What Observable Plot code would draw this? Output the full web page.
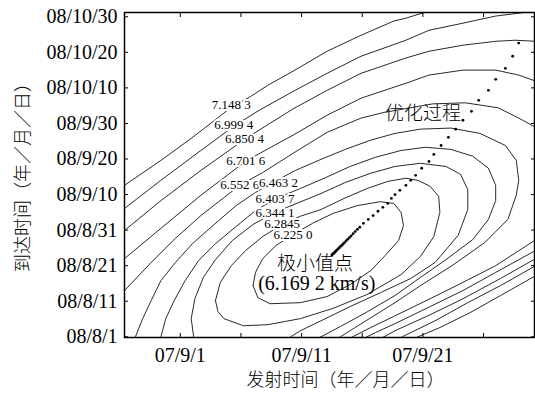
<!DOCTYPE html>
<html><head><meta charset="utf-8">
<script src="https://cdn.jsdelivr.net/npm/d3@7"></script>
<script src="https://cdn.jsdelivr.net/npm/@observablehq/plot@0.6"></script>
<style>body{margin:0;background:#fff}</style>
</head><body><div id="chart"></div>
<script>
// x: launch day of Sep 2007 (1 = 07/9/1); y: arrival day after 2008-08-01 (0 = 08/8/1)
const xTickValues = [1, 6, 11, 16, 21, 26];
const xLabelValues = [1, 11, 21];
const xTickLabels = ["07/9/1", "07/9/11", "07/9/21"];
const yTickValues = [0, 10, 20, 30, 40, 50, 60, 70, 80, 90];
const yTickLabels = ["08/8/1","08/8/11","08/8/21","08/8/31","08/9/10","08/9/20","08/9/30","08/10/10","08/10/20","08/10/30"];

// contour level labels (km/s) and their positions
const levelLabels = ["7.148 3","6.999 4","6.850 4","6.701 6","6.552 6","6.463 2","6.403 7","6.344 1","6.2845","6.225 0"];
const labelX = [5.2, 5.4, 6.3, 6.4, 5.9, 9.1, 8.8, 8.8, 9.4, 10.3];
const labelY = [65.1, 59.7, 55.6, 49.6, 42.7, 43.4, 38.9, 35.0, 31.9, 28.8];

// contour lines: [launch day, arrival day]
const c7148_up = [[-4.1,41.5],[-3.6,42.6],[-0.6,49.6],[1.9,55.8],[5.2,64.5],[6.8,67.6],[8.2,70.7],[10.3,74.7],[13.1,80.3],[15.9,84.8],[18.6,88.8],[19.6,89.6],[21.2,91.3],[22.4,92.7]];
const c7148_low = [[31.1,18.6],[30.3,17.2],[27.4,11.6],[24.9,6.8],[22.4,2.6],[20.6,0],[20.0,-1.1]];
const c6999_up = [[-4.1,35.0],[-3.6,36.1],[-0.6,44.0],[2.7,52.4],[5.4,59.2],[7.5,63.7],[10.3,69.0],[13.1,74.1],[15.9,78.9],[19.6,83.4],[21.5,86.2],[24.3,88.2],[27.0,90.2],[30.3,91.6],[31.1,92.2]];
const c6999_low = [[31.1,21.4],[30.3,20.0],[27.4,14.4],[24.7,9.6],[22.0,4.5],[19.3,0],[18.7,-1.1]];
const c6850_up = [[-4.1,28.5],[-3.6,29.9],[-0.6,38.3],[2.7,46.8],[6.3,55.5],[8.0,59.2],[10.3,64.1],[13.1,69.3],[15.9,74.1],[19.6,78.4],[21.5,80.3],[24.3,82.0],[27.0,83.1],[28.6,83.4],[30.3,83.1],[31.1,82.8]];
const c6850_low = [[31.1,23.4],[30.3,22.0],[27.4,16.4],[24.3,10.7],[21.6,6.2],[18.7,1.7],[17.8,0],[17.1,-1.1]];
const c6701_up = [[-4.1,20.9],[-3.6,22.0],[-0.6,30.5],[2.7,39.8],[6.4,49.4],[8.3,53.0],[10.3,56.7],[13.1,62.3],[15.9,67.1],[19.6,71.3],[21.5,73.6],[24.3,75.0],[27.0,75.0],[28.9,73.6],[30.3,71.9],[31.1,70.7]];
const c6701_low = [[31.1,25.7],[30.3,24.3],[27.0,18.1],[24.3,13.0],[21.6,8.5],[18.7,3.7],[17.1,1.2],[16.4,0],[15.7,-1.1]];
const c6553_up = [[-4.1,11.2],[-3.6,13.0],[-1.4,20.9],[0.6,27.7],[2.7,34.1],[5.9,42.6],[7.8,46.2],[10.3,51.6],[13.1,57.5],[15.9,61.5],[17.8,63.1],[21.8,65.5],[24.5,65.8],[27.2,64.4],[28.9,61.5],[30.3,58.9],[31.1,57.5]];
const c6553_low = [[31.1,28.7],[30.3,27.3],[27.0,20.0],[24.3,15.3],[21.6,10.7],[18.7,5.9],[16.7,2.6],[15.2,0],[14.6,-1.1]];
const c6463 = [[-2.8,-1.6],[-2.7,0],[-2.1,5.1],[-1.4,10.2],[-0.6,15.8],[0.6,20.9],[2.0,26.2],[3.7,31.3],[5.6,36.9],[7.2,40.6],[8.8,43.7],[10.5,46.8],[12.6,49.9],[14.6,52.7],[16.7,55.3],[18.7,57.2],[20.8,58.4],[23.3,58.7],[25.7,57.2],[27.8,53.8],[28.7,49.6],[28.9,44.0],[28.7,39.8],[28.0,33.0],[26.1,26.5],[23.4,20.0],[20.8,14.4],[18.7,9.6],[16.3,4.5],[14.2,0],[13.6,-1.1]];
const c6404 = [[-0.8,-1.6],[-0.6,0],[-0.2,5.1],[0.5,10.2],[1.4,15.8],[2.5,21.4],[3.9,26.2],[5.6,31.0],[7.2,35.5],[8.9,38.9],[10.9,41.7],[13.0,44.8],[15.0,47.9],[17.1,50.5],[19.2,52.4],[21.2,53.3],[23.3,52.7],[25.1,50.8],[26.4,47.4],[27.0,42.6],[27.0,38.3],[26.4,33.0],[25.1,27.3],[22.9,21.7],[20.8,16.7],[18.7,11.6],[16.3,6.8],[14.2,2.9],[12.6,0],[12.0,-1.1]];
const c6344 = [[2.2,-1.6],[2.1,0],[1.9,5.1],[2.2,10.7],[2.9,16.7],[3.9,21.7],[5.3,27.1],[7.0,31.6],[8.8,35.0],[10.8,37.8],[12.6,40.3],[14.6,43.4],[16.7,46.0],[18.7,47.9],[20.8,48.8],[22.9,47.9],[24.1,45.7],[24.7,41.4],[24.7,35.8],[23.9,28.5],[22.0,20.9],[20.0,16.4],[17.5,12.4],[15.0,8.5],[12.6,4.5],[10.9,1.7],[10.1,0],[9.7,-1.1]];
const c6285 = [[3.9,10.2],[4.1,7.1],[4.6,5.1],[6.2,3.1],[8.2,3.4],[10.9,5.1],[13.6,8.0],[16.4,11.9],[19.2,17.5],[20.8,22.6],[21.9,28.2],[22.4,35.0],[22.3,39.5],[21.6,42.3],[20.6,44.0],[19.6,44.6],[18.1,43.7],[16.4,41.7],[14.5,38.9],[12.6,35.8],[10.9,33.9],[9.4,31.6],[7.8,28.2],[6.4,24.3],[5.2,20.0],[4.3,15.3],[3.9,10.2]];
const c6225 = [[7.0,14.4],[7.2,18.1],[7.8,22.0],[8.9,25.7],[10.3,28.8],[11.9,31.9],[13.6,34.7],[15.6,36.9],[17.5,38.0],[18.6,37.5],[19.2,35.0],[19.4,31.3],[19.0,27.1],[17.9,22.9],[16.7,18.6],[15.0,14.7],[13.1,11.3],[10.9,9.6],[8.4,9.3],[7.4,11.0],[7.0,14.4]];

// optimisation path (dots)
const pathX = [28.9,28.4,27.8,27.0,26.4,25.6,25.0,24.3,23.7,23.1,22.5,21.9,21.5,20.9,20.4,20.0,19.6,19.1,18.7,18.4,18.1,17.7,17.3,16.9,16.5,16.1,15.79,15.60,15.42,15.25,15.09,14.94,14.80,14.67,14.54,14.42,14.31,14.20,14.10,14.00,13.91,13.82,13.74,13.66,13.58,13.50];
const pathY = [82.6,78.9,75.5,72.4,69.3,66.5,63.4,60.9,58.4,56.1,53.8,51.3,49.3,47.4,45.4,44.0,42.6,41.2,40.0,38.9,37.5,36.4,35.3,34.1,33.0,31.9,30.8,30.2,29.6,29.0,28.4,27.9,27.4,27.0,26.5,26.1,25.7,25.4,25.0,24.7,24.4,24.1,23.8,23.5,23.3,23.0];

const annotTexts = ["优化过程", "极小值点"];
const annotX = [21.0, 12.1];
const annotY = [62.6, 20.4];
const minValueText = "(6.169 2 km/s)";
const minValueX = 12.25, minValueY = 15.0;

const xTitle = "发射时间（年／月／日）";
const yTitle = "到达时间（年／月／日）";

const segments = {c7148_up, c7148_low, c6999_up, c6999_low, c6850_up, c6850_low, c6701_up, c6701_low,
  c6553_up, c6553_low, c6463, c6404, c6344, c6285, c6225};
const contourTable = Object.entries(segments).flatMap(([id, pts]) => pts.map(([d, a]) => ({id, d, a})));
const pathTable = pathX.map((d, i) => ({d, a: pathY[i]}));

const serif = "'Liberation Serif', 'DejaVu Serif', serif";
const cjk = "'Noto Sans CJK SC', sans-serif";

const chart = Plot.plot({
  width: 535, height: 393,
  marginLeft: 124, marginRight: 1, marginTop: 12, marginBottom: 56,
  style: {fontFamily: serif, fontSize: "20px", background: "white", color: "black"},
  x: {domain: [-3.6, 30.2], label: null},
  y: {domain: [-0.2, 91.2], label: null},
  marks: [
    Plot.line(contourTable, {x: "d", y: "a", z: "id", stroke: "#111", strokeWidth: 0.9, clip: true}),
    Plot.text(levelLabels.map((_, i) => i), {x: i => labelX[i], y: i => labelY[i], text: i => levelLabels[i],
      fontFamily: serif, fontSize: 13, fill: "black", stroke: "white", strokeWidth: 4}),
    Plot.dot(pathTable, {x: "d", y: "a", r: 1.4, fill: "black", stroke: "none"}),
    Plot.text(annotTexts.map((_, i) => i), {x: i => annotX[i], y: i => annotY[i], text: i => annotTexts[i],
      fontFamily: cjk, fontSize: 19, fontWeight: 300, fill: "black"}),
    Plot.text([minValueText], {x: () => minValueX, y: () => minValueY, text: d => d, fontFamily: serif, fontSize: 20, fill: "black"}),
    Plot.axisY(yTickValues, {anchor: "left", tickSize: -4, tickPadding: 11, label: null,
      tickFormat: d => yTickLabels[yTickValues.indexOf(d)], fontSize: 20, fontFamily: serif}),
    Plot.axisY(yTickValues, {anchor: "right", tickSize: -4, label: null, tickFormat: () => ""}),
    Plot.axisX(xTickValues, {anchor: "bottom", tickSize: -4, label: null, tickFormat: () => ""}),
    Plot.axisX(xTickValues, {anchor: "top", tickSize: -4, label: null, tickFormat: () => ""}),
    Plot.axisX(xLabelValues, {anchor: "bottom", tickSize: 0, tickPadding: 10, label: null,
      tickFormat: d => xTickLabels[xLabelValues.indexOf(d)], fontSize: 20, fontFamily: serif}),
    Plot.text([xTitle], {frameAnchor: "bottom", textAnchor: "middle", dx: 16, dy: 48, fontFamily: cjk, fontSize: 18, fontWeight: 300, fill: "black"}),
    Plot.text([yTitle], {frameAnchor: "left", textAnchor: "middle", dx: -101, dy: -2, rotate: -90, fontFamily: cjk, fontSize: 18, fontWeight: 300, fill: "black"}),
    Plot.frame({stroke: "black", strokeWidth: 1.5})
  ]
});
document.getElementById("chart").appendChild(chart);
</script>
</body></html>
